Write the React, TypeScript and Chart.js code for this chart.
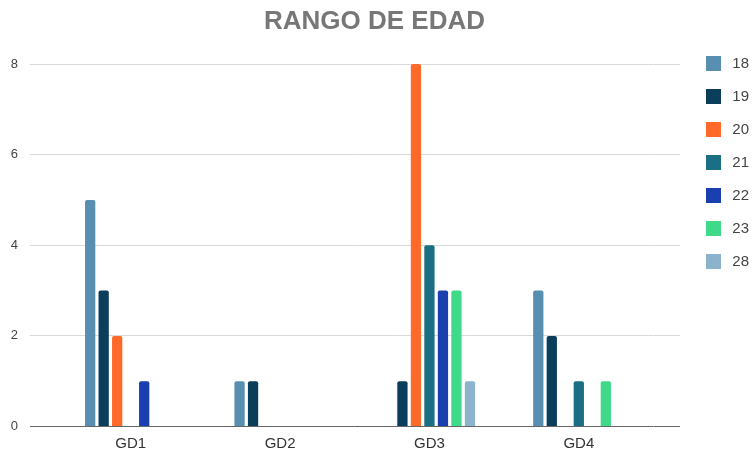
import React, { useEffect, useRef } from "react";
import { Chart, registerables } from "chart.js";

Chart.register(...registerables);

const categories = ["GD1", "GD2", "GD3", "GD4"];
const seriesLabels = ["18", "19", "20", "21", "22", "23", "28"];
const age18 = [5, 1, 0, 3];
const age19 = [3, 1, 1, 2];
const age20 = [2, 0, 8, 0];
const age21 = [0, 0, 4, 1];
const age22 = [1, 0, 3, 0];
const age23 = [0, 0, 3, 1];
const age28 = [0, 0, 1, 0];
const seriesValues = [age18, age19, age20, age21, age22, age23, age28];
const seriesColors = ["#588eb0", "#0b3e5b", "#ff6a2b", "#1b6f84", "#1a3fae", "#3fd98a", "#8bb4cc"];
const yMax = 8;
const yStep = 2;
const titleText = "RANGO DE EDAD";

const FONT = "'Liberation Sans', Arial, sans-serif";

export default function App() {
  const ref = useRef<HTMLCanvasElement | null>(null);

  useEffect(() => {
    document.body.style.margin = "0";
    if (!ref.current) return;
    const gridColor = (c: any) => (c.tick && c.tick.value === 0 ? "#666666" : "#d9d9d9");
    const chart = new Chart(ref.current, {
      type: "bar",
      data: {
        labels: categories,
        datasets: seriesLabels.map((label, i) => ({
          label,
          data: seriesValues[i],
          backgroundColor: seriesColors[i],
          borderColor: seriesColors[i],
          borderWidth: 0,
          borderRadius: 2,
          categoryPercentage: 0.633,
          barPercentage: 0.76,
        })),
      },
      options: {
        responsive: false,
        animation: false,
        layout: { padding: { top: 0, left: 0, right: 4, bottom: 1 } },
        plugins: {
          title: {
            display: true,
            text: titleText,
            color: "#777777",
            font: { family: FONT, size: 26, weight: "bold" },
            padding: { top: 6.4, bottom: 26.4 },
          },
          legend: {
            position: "right",
            align: "start",
            maxWidth: 61,
            title: {
              display: true,
              text: "",
              font: { size: 12 },
              padding: { top: 23.6, bottom: 0 },
            },
            labels: {
              boxWidth: 15,
              boxHeight: 15,
              padding: 18,
              textAlign: "right",
              color: "#444444",
              font: { family: FONT, size: 15 },
            },
          },
          tooltip: { enabled: false },
        },
        scales: {
          x: {
            grid: { display: false, drawTicks: false },
            border: { display: false },
            ticks: {
              color: "#333333",
              padding: 8.5,
              font: { family: FONT, size: 15 },
            },
            afterFit: (s: any) => {
              s.height = 26.5;
            },
          },
          y: {
            position: "left",
            min: 0,
            max: yMax,
            ticks: {
              stepSize: yStep,
              color: "#444444",
              padding: 12,
              font: { family: FONT, size: 13 },
            },
            grid: { color: gridColor, tickLength: 26, drawTicks: true },
            border: { display: false },
            afterFit: (s: any) => {
              s.width = 56;
            },
          },
          y2: {
            position: "right",
            min: 0,
            max: yMax,
            ticks: { stepSize: yStep, display: false },
            grid: { color: gridColor, drawOnChartArea: false, drawTicks: true, tickLength: 26.5 },
            border: { display: false },
            afterFit: (s: any) => {
              s.width = 34.5;
            },
          },
        },
      },
    });
    return () => chart.destroy();
  }, []);

  return (
    <div style={{ width: 753, height: 454 }}>
      <canvas ref={ref} width={753} height={454} />
    </div>
  );
}
